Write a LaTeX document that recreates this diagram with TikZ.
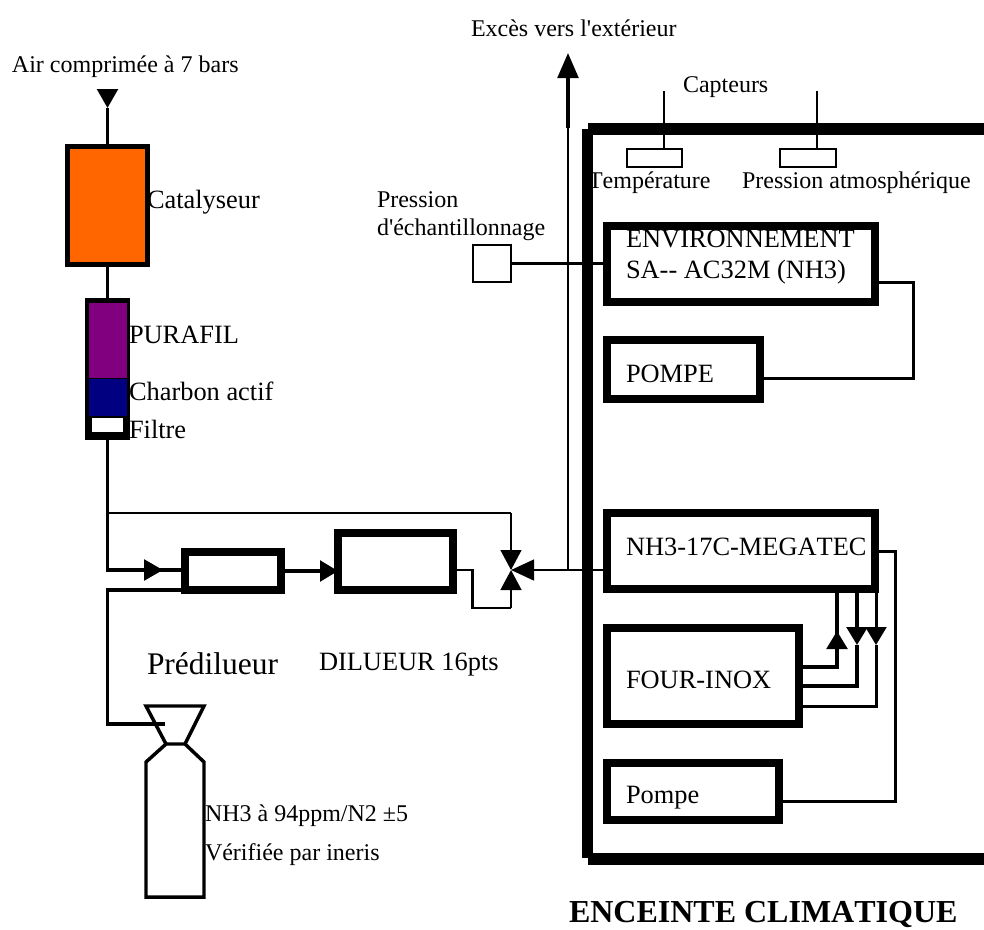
\documentclass[tikz,border=0pt]{standalone}
\usepackage{fontspec}
\setmainfont{Liberation Serif}[Ligatures=TeXOff,Kerning=Off]
\usetikzlibrary{arrows.meta}
\definecolor{catorange}{HTML}{FF6600}
\definecolor{purafil}{HTML}{800080}
\definecolor{charbon}{HTML}{000080}
\tikzset{
  x=0.75pt,y=-0.75pt,
  txt/.style={anchor=base west,inner sep=0pt,outer sep=0pt},
  boxbase/.style={rectangle,inner sep=0pt,outer sep=0pt},
  heavy/.style={boxbase,draw=black,line width=6pt},
  medium/.style={boxbase,draw=black,line width=3.6pt},
  light/.style={boxbase,draw=black,line width=1.9pt},
  solidblock/.style={boxbase},
  pipe/.style={draw=black,line width=2.6pt},
  midpipe/.style={draw=black,line width=2.25pt},
  thinpipe/.style={draw=black,line width=1.9pt},
  wall/.style={draw=black,line width=8.4pt},
  bottle/.style={draw=black,line width=2.6pt,line join=miter},
  flowtip/.style={-{Triangle[length=#1*0.75pt,width=15.5pt]}},
}
\newcommand{\pxbox}[6]{\node[#6,minimum width={(#4-#2)*0.75pt},minimum height={(#5-#3)*0.75pt}] (#1) at ({(#2+#4)/2},{(#3+#5)/2}) {};}
\newcommand{\lab}[5]{\node[txt,font=\fontsize{#4pt}{#4pt}\selectfont] (#1) at (#2,#3) {#5};}
\begin{document}
\begin{tikzpicture}
\useasboundingbox (0,0) rectangle (984,929);
% texts
\lab{tair}{12}{72}{18}{Air comprimée à 7 bars}
\lab{texces}{471}{36}{18}{Excès vers l'extérieur}
\lab{tcapt}{683}{92}{18}{Capteurs}
\lab{ttemp}{588}{188}{18}{Température}
\lab{tpatm}{742}{188}{18}{Pression atmosphérique}
\lab{tpe}{377}{207}{18}{Pression}
\lab{tpf}{377}{235}{18}{d'échantillonnage}
\lab{tcat}{147}{208}{19.8}{Catalyseur}
\lab{tpur}{129}{343}{19.8}{PURAFIL}
\lab{tcha}{129}{400}{19.8}{Charbon actif}
\lab{tfil}{129}{438}{19.8}{Filtre}
\lab{tpre}{147}{674}{23.6}{Prédilueur}
\lab{tdil}{319}{670}{19.8}{DILUEUR 16pts}
\lab{tnh}{205}{821}{18}{NH3 à 94ppm/N2 ±5}
\lab{tver}{205}{860}{18}{Vérifiée par ineris}
\lab{tenv}{626}{247}{19.8}{ENVIRONNEMENT}
\lab{tsa}{626}{278}{19.8}{SA-- AC32M (NH3)}
\lab{tpomA}{626}{382}{19.8}{POMPE}
\lab{tmeg}{626}{555}{19.8}{NH3-17C-MEGATEC}
\lab{tfour}{626}{688}{19.8}{FOUR-INOX}
\lab{tpomB}{626}{803}{19.8}{Pompe}
\lab{tenc}{569}{922}{24}{\bfseries ENCEINTE CLIMATIQUE}
% filters
\pxbox{cat}{67.5}{146.5}{147.5}{264.5}{medium,fill=catorange}
\pxbox{col}{85}{298}{130}{440}{solidblock,fill=black}
\pxbox{pur}{89}{303}{126.5}{378}{solidblock,fill=purafil}
\pxbox{nav}{89}{379}{126.5}{416}{solidblock,fill=charbon}
\pxbox{whi}{92}{418}{123}{432}{solidblock,fill=white}
% boxes
\pxbox{pre}{185}{552}{281}{590}{heavy}
\pxbox{dil}{338}{533}{453}{590}{heavy}
\pxbox{env}{607}{226}{875}{302}{heavy}
\pxbox{pomA}{607}{340}{760}{399}{heavy}
\pxbox{meg}{607}{513}{875}{589}{heavy}
\pxbox{four}{607}{628}{799}{724}{heavy}
\pxbox{pomB}{607}{763}{779}{820}{heavy}
\pxbox{temp}{627}{149}{682}{167}{light}
\pxbox{patm}{780}{149}{836}{167}{light}
\pxbox{samp}{473}{245}{511}{282}{light}
% enclosure
\draw[wall] (587.5,129) -- (587.5,858);
\draw[wall] (588,129) -- (984,129);
\draw[wall] (588,859) -- (984,859);
% coordinates
\coordinate (airin) at (107.5,89);
\coordinate (airtip) at (107.5,108);
\coordinate (jby) at (107.5,513);
\coordinate (jin) at (107.5,570);
\coordinate (tipA) at (163,570);
\coordinate (vc) at (511,570);
\coordinate (dv1) at (472.5,570);
\coordinate (dv2) at (472.5,608);
\coordinate (dv3) at (511,608);
\coordinate (by1) at (511,513);
\coordinate (jex) at (568,570);
\coordinate (jsamp) at (568,263.5);
\coordinate (exw) at (568,128);
\coordinate (extip) at (568,53);
\coordinate (ct) at (664,91);
\coordinate (cp) at (817,91);
% air line
\draw[pipe,flowtip=19] (airin) -- (airtip);
\draw[pipe] (airtip) -- (cat.north);
\draw[pipe] (cat.south) -- (col.north);
\draw[pipe] (col.south) -- (jin) -- (tipA);
\draw[pipe,flowtip=19] (jin) -- (tipA);
\draw[pipe] (tipA) -- (tipA -| pre.west);
\draw[pipe,flowtip=18] (pre.east) -- (pre.east -| dil.west);
\draw[thinpipe,line join=miter] (jby) -- (by1);
\draw[thinpipe,flowtip=20] (by1) -- (vc);
\draw[thinpipe] (dil.east |- vc) -- (dv1) -- (dv2) -- (dv3);
\draw[thinpipe,flowtip=20] (dv3) -- (vc);
\draw[thinpipe,flowtip=23] (meg.west |- vc) -- (vc);
\draw[thinpipe] (jex) -- (exw);
\draw[pipe,flowtip=25] (exw) -- (extip);
\draw[pipe] (samp.east) -- (jsamp);
\draw[thinpipe] (jsamp) -- (jsamp -| env.west);
\draw[thinpipe] (ct) -- (ct |- temp.north);
\draw[thinpipe] (cp) -- (cp |- patm.north);
% env/pompe
\coordinate (e1) at (913,282);
\coordinate (e2) at (913,378);
\draw[midpipe] (env.east |- e1) -- (e1) -- (e2) -- (e2 -| pomA.east);
% megatec/pompe
\coordinate (m1) at (895,551);
\coordinate (m2) at (895,801);
\draw[midpipe] (meg.east |- m1) -- (m1) -- (m2) -- (m2 -| pomB.east);
% four/megatec
\coordinate (f1) at (837,667);
\coordinate (f1t) at (837,631);
\coordinate (f2) at (857,686);
\coordinate (f2t) at (857,645);
\coordinate (f3) at (876,706);
\coordinate (f3t) at (876,645);
\draw[pipe] (four.east |- f1) -- (f1) -- (f1t);
\draw[pipe,flowtip=18] (f1) -- (f1t);
\draw[pipe] (f1t) -- (f1t |- meg.south);
\draw[pipe] (four.east |- f2) -- (f2) -- (f2t);
\draw[pipe,flowtip=18] (f2t |- meg.south) -- (f2t);
\draw[midpipe] (four.east |- f3) -- (f3) -- (f3t);
\draw[midpipe,flowtip=18] (f3t |- meg.south) -- (f3t);
% cylinder
\coordinate (bA) at (146,706);
\coordinate (bB) at (204,706);
\coordinate (bC) at (185,744);
\coordinate (bD) at (166,744);
\coordinate (bE) at (146,762);
\coordinate (bF) at (146,897);
\coordinate (bG) at (204,897);
\coordinate (bH) at (204,762);
\coordinate (gasin) at (165,724);
\draw[bottle] (bA) -- (bB) -- (bC) -- (bD) -- cycle;
\draw[bottle] (bD) -- (bE) -- (bF) -- (bG) -- (bH) -- (bC);
\draw[pipe] (pre.south west) -- (jin |- pre.south west) -- (jin |- gasin) -- (gasin);
\end{tikzpicture}
\end{document}
